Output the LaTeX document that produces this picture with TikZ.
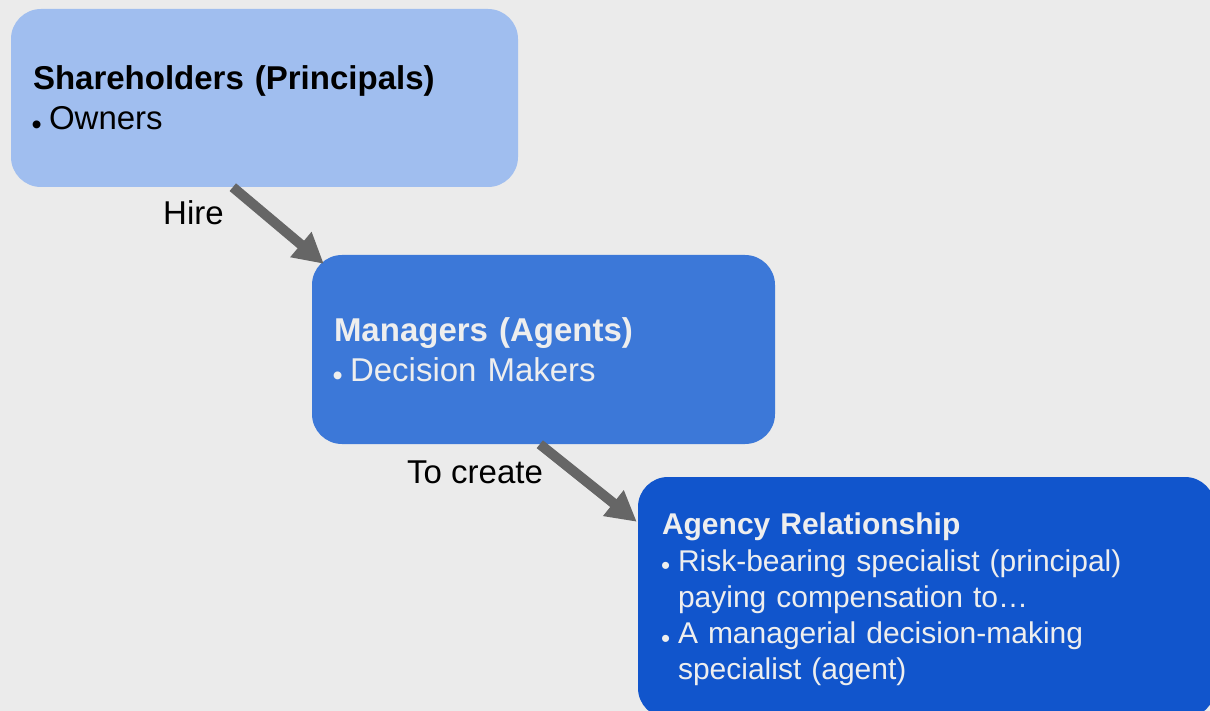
\documentclass[tikz,border=0pt]{standalone}
\usepackage{fontspec}
\setmainfont{Liberation Sans}
\usetikzlibrary{arrows.meta,calc}
\definecolor{bgc}{HTML}{EBEBEB}
\definecolor{lightblue}{HTML}{A0BEEF}
\definecolor{midblue}{HTML}{3C78D8}
\definecolor{darkblue}{HTML}{1155CC}
\definecolor{arrowgray}{HTML}{666666}
\definecolor{paletext}{HTML}{EEEEEE}
\newcommand\bul{\makebox[16pt][l]{\hspace*{-1.5pt}\smash{\raisebox{-4.5pt}{\fontsize{29}{29}\selectfont\textbullet}}}}
\newcommand\bulsm{\makebox[16pt][l]{\hspace*{-1pt}\smash{\raisebox{-3.5pt}{\fontsize{26}{26}\selectfont\textbullet}}}}
\tikzset{
  box/.style={rectangle, rounded corners=30pt, inner xsep=22pt, inner ysep=0pt, align=left},
  conn/.style={draw=arrowgray, line width=10pt, -{Triangle[length=30pt,width=31pt]}},
  lbl/.style={inner sep=0pt, anchor=base west, font=\fontsize{33}{40}\selectfont}
}
\begin{document}
\begin{tikzpicture}[x=1pt,y=-1pt]
\useasboundingbox (0,0) rectangle (1210,711);
\clip (0,0) rectangle (1210,711);
\fill[bgc] (0,0) rectangle (1210,711);
\node[box, fill=lightblue, text=black, minimum width=507pt, minimum height=178pt, text width=463pt,
  font=\fontsize{33}{40}\selectfont] (b1) at (264.5,98)
  {\textbf{Shareholders (Principals)}\\\bul Owners};
\node[box, fill=midblue, text=paletext, minimum width=463pt, minimum height=189pt, text width=419pt,
  font=\fontsize{33}{40}\selectfont] (b2) at (543.5,349.5)
  {\textbf{Managers (Agents)}\\\bul Decision Makers};
\node[box, fill=darkblue, text=paletext, inner xsep=24pt, minimum width=577pt, minimum height=241pt, text width=529pt,
  font=\fontsize{30}{36.25}\selectfont] (b3) at (926.5,597.5)
  {\rule{0pt}{26pt}\textbf{Agency Relationship}\\
   \bulsm Risk-bearing specialist (principal)\\
   \hspace*{16pt}paying compensation to…\\
   \bulsm A managerial decision-making\\
   \hspace*{16pt}specialist (agent)};
\draw[conn] ([xshift=222pt]b1.south west) -- ([xshift=12pt,yshift=-9pt]b2.north west);
\draw[conn] ([xshift=228pt]b2.south west) -- ([xshift=-1pt,yshift=-45pt]b3.north west);
\node[lbl] (hire) at (163,225) {Hire};
\node[lbl] (create) at (407,483) {To create};
\end{tikzpicture}
\end{document}
